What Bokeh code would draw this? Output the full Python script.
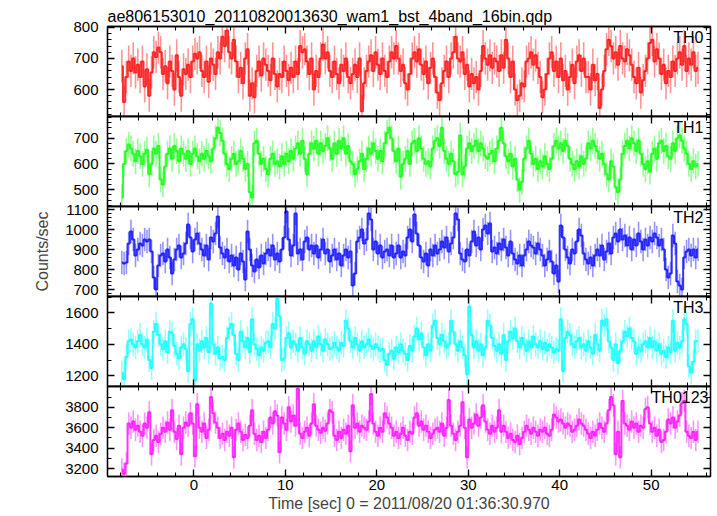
import numpy as np
from bokeh.plotting import figure
from bokeh.layouts import column
from bokeh.models import Range1d, LinearAxis, FixedTicker, Label, ColumnDataSource
from bokeh.embed import file_html
from bokeh.resources import INLINE

# ---------------- data (counts/sec, 0.25 s bins starting at t = -8.0 s) ----------------
T_START = -8.0
BIN = 0.25

th0 = [
    675, 560, 640, 690, 660, 700, 655, 680, 640, 690, 610, 665, 580, 655, 720, 705,
    735, 720, 650, 675, 620, 690, 660, 600, 710, 640, 580, 665, 650, 680, 640, 690,
    715, 700, 720, 660, 640, 690, 625, 700, 680, 650, 720, 700, 770, 740, 790, 720,
    700, 760, 690, 640, 670, 620, 700, 730, 580, 620, 575, 660, 690, 645, 700, 680,
    660, 630, 700, 650, 610, 650, 640, 690, 660, 630, 670, 640, 690, 650, 740, 720,
    730, 690, 650, 700, 600, 660, 640, 700, 745, 700, 720, 660, 640, 690, 650, 620,
    680, 660, 700, 640, 620, 650, 680, 640, 700, 530, 620, 660, 690, 710, 660, 720,
    680, 650, 700, 660, 640, 690, 720, 700, 740, 700, 660, 680, 620, 600, 650, 700,
    720, 690, 730, 680, 650, 690, 620, 670, 700, 640, 590, 565, 620, 660, 690, 640,
    700, 720, 770, 700, 690, 720, 650, 680, 610, 650, 620, 640, 600, 660, 740, 700,
    680, 710, 670, 700, 690, 660, 710, 670, 760, 700, 640, 690, 600, 565, 580, 620,
    610, 690, 700, 720, 680, 710, 670, 640, 575, 600, 650, 700, 720, 660, 690, 640,
    700, 630, 660, 600, 640, 680, 620, 690, 710, 660, 700, 640, 640, 600, 680, 630,
    650, 540, 600, 660, 730, 760, 740, 700, 720, 680, 740, 700, 690, 730, 710, 680,
    640, 620, 670, 590, 630, 660, 700, 750, 760, 690, 730, 700, 650, 680, 620, 660,
    640, 690, 660, 700, 720, 680, 740, 660, 700, 680, 720, 660, 670,
]
th1 = [
    470, 600, 650, 675, 660, 640, 610, 650, 630, 600, 640, 655, 560, 600, 660, 640,
    670, 540, 520, 590, 640, 660, 620, 670, 650, 610, 660, 640, 620, 650, 600, 640,
    660, 630, 610, 640, 620, 650, 630, 610, 660, 700, 740, 720, 690, 640, 600, 580,
    620, 640, 600, 610, 650, 620, 580, 600, 490, 470, 680, 690, 640, 600, 620, 580,
    560, 620, 640, 600, 610, 590, 630, 600, 640, 610, 650, 620, 660, 680, 640, 690,
    620, 560, 640, 680, 660, 690, 640, 680, 650, 670, 700, 660, 620, 680, 640, 690,
    660, 700, 640, 670, 610, 600, 560, 580, 610, 640, 580, 620, 660, 640, 680, 650,
    620, 650, 610, 680, 720, 740, 700, 650, 610, 660, 550, 600, 620, 650, 600, 680,
    690, 650, 700, 660, 620, 600, 610, 590, 660, 690, 700, 670, 740, 650, 620, 600,
    640, 610, 560, 570, 710, 560, 590, 660, 680, 650, 670, 690, 650, 680, 660, 630,
    620, 640, 650, 610, 660, 690, 740, 680, 630, 610, 640, 590, 620, 540, 500, 530,
    620, 660, 690, 640, 600, 620, 580, 610, 590, 630, 600, 580, 620, 670, 690, 660,
    680, 650, 690, 670, 620, 600, 580, 610, 590, 630, 600, 620, 680, 660, 690, 670,
    650, 620, 640, 600, 560, 540, 610, 590, 510, 490, 540, 640, 670, 690, 660, 700,
    680, 650, 690, 640, 600, 580, 610, 570, 640, 660, 620, 680, 690, 650, 670, 630,
    620, 680, 650, 700, 710, 690, 660, 640, 600, 580, 610, 590, 600,
]
th2 = [
    835, 830, 835, 930, 990, 950, 870, 900, 930, 920, 950, 940, 950, 890, 760, 700,
    820, 870, 880, 840, 900, 860, 780, 850, 900, 920, 860, 880, 930, 1025, 960, 890,
    950, 980, 930, 900, 870, 920, 850, 960, 940, 980, 1065, 910, 880, 860, 900, 840,
    870, 820, 860, 800, 880, 840, 750, 990, 900, 820, 790, 850, 810, 870, 830, 880,
    900, 870, 920, 850, 880, 840, 900, 960, 1090, 950, 870, 920, 1080, 880, 900, 850,
    940, 960, 900, 920, 880, 920, 860, 900, 950, 880, 900, 840, 870, 900, 850, 880,
    820, 870, 900, 860, 890, 720, 780, 940, 960, 1000, 930, 950, 1080, 1050, 900, 940,
    880, 920, 860, 890, 900, 870, 920, 860, 880, 920, 860, 890, 870, 960, 1000, 940,
    1075, 980, 920, 860, 840, 880, 820, 900, 870, 920, 880, 900, 940, 910, 960, 890,
    930, 960, 1080, 1050, 880, 850, 840, 900, 870, 940, 990, 920, 960, 900, 1000, 1020,
    980, 1030, 890, 910, 880, 930, 900, 950, 910, 870, 940, 880, 850, 830, 870, 820,
    870, 900, 940, 920, 910, 880, 930, 900, 870, 820, 850, 890, 840, 780, 820, 740,
    1020, 960, 900, 860, 830, 900, 880, 940, 1000, 970, 880, 850, 830, 860, 820, 870,
    900, 870, 920, 850, 890, 930, 880, 960, 980, 940, 1000, 950, 970, 920, 960, 900,
    950, 920, 980, 940, 900, 950, 920, 960, 940, 980, 960, 920, 950, 900, 800, 760,
    780, 970, 930, 740, 720, 700, 860, 890, 900, 870, 900, 860, 900,
]
th3 = [
    1220, 1180, 1320, 1420, 1430, 1400, 1380, 1420, 1460, 1400, 1380, 1430, 1300, 1250, 1480, 1530,
    1460, 1400, 1370, 1420, 1350, 1480, 1470, 1390, 1340, 1310, 1380, 1400, 1370, 1230, 1530, 1560,
    1170, 1400, 1360, 1420, 1380, 1440, 1350, 1660, 1400, 1340, 1380, 1310, 1320, 1300, 1440, 1500,
    1530, 1460, 1340, 1300, 1480, 1420, 1380, 1440, 1350, 1560, 1400, 1370, 1330, 1380, 1360, 1410,
    1420, 1380, 1530, 1500, 1690, 1580, 1300, 1310, 1440, 1470, 1380, 1420, 1400, 1360, 1440, 1380,
    1340, 1420, 1400, 1360, 1420, 1380, 1450, 1400, 1360, 1430, 1400, 1370, 1380, 1410, 1380, 1360,
    1410, 1390, 1550, 1500, 1420, 1380, 1440, 1400, 1360, 1420, 1380, 1400, 1430, 1390, 1370, 1400,
    1380, 1360, 1370, 1300, 1270, 1340, 1360, 1310, 1380, 1350, 1400, 1360, 1340, 1300, 1390, 1360,
    1450, 1500, 1430, 1470, 1380, 1330, 1400, 1360, 1520, 1550, 1440, 1400, 1460, 1420, 1380, 1400,
    1550, 1480, 1400, 1360, 1420, 1380, 1330, 1210, 1640, 1460, 1380, 1420, 1360, 1400, 1330, 1380,
    1550, 1520, 1440, 1390, 1360, 1400, 1340, 1460, 1300, 1420, 1480, 1440, 1500, 1420, 1380, 1440,
    1400, 1360, 1420, 1380, 1450, 1400, 1380, 1420, 1370, 1410, 1360, 1400, 1380, 1350, 1370, 1360,
    1560, 1230, 1440, 1480, 1460, 1400, 1380, 1420, 1440, 1380, 1400, 1360, 1420, 1380, 1340, 1460,
    1400, 1360, 1550, 1520, 1560, 1420, 1380, 1300, 1400, 1280, 1360, 1420, 1480, 1450, 1500, 1440,
    1420, 1340, 1380, 1360, 1400, 1420, 1380, 1440, 1380, 1420, 1360, 1400, 1340, 1360, 1320, 1380,
    1350, 1550, 1360, 1410, 1380, 1420, 1560, 1530, 1260, 1220, 1290, 1420, 1420,
]
th0123 = [
    3190, 3150, 3250, 3640, 3600, 3660, 3580, 3620, 3560, 3520, 3640, 3600, 3750, 3340, 3480, 3520,
    3460, 3540, 3600, 3560, 3650, 3580, 3770, 3560, 3490, 3620, 3340, 3600, 3650, 3620, 3740, 3640,
    3320, 3830, 3600, 3560, 3640, 3500, 3580, 3900, 3740, 3650, 3600, 3500, 3540, 3480, 3560, 3520,
    3600, 3310, 3580, 3640, 3560, 3480, 3530, 3500, 3620, 3770, 3540, 3480, 3520, 3460, 3560, 3500,
    3580, 3700, 3640, 3760, 3720, 3360, 3700, 3640, 3580, 3800, 3660, 3720, 3620, 3980, 3540, 3500,
    3560, 3600, 3520, 3640, 3830, 3620, 3580, 3550, 3600, 3570, 3640, 3770, 3750, 3520, 3480, 3560,
    3500, 3580, 3540, 3620, 3370, 3820, 3600, 3640, 3560, 3620, 3600, 3580, 3660, 3930, 3640, 3560,
    3520, 3600, 3560, 3740, 3700, 3640, 3600, 3520, 3560, 3500, 3540, 3600, 3520, 3480, 3560, 3540,
    3700, 3740, 3620, 3660, 3580, 3620, 3560, 3500, 3540, 3580, 3600, 3560, 3640, 3520, 3600, 3870,
    3620, 3540, 3480, 3560, 3620, 3850, 3600, 3310, 3680, 3600, 3640, 3730, 3620, 3700, 3820, 3660,
    3580, 3540, 3620, 3560, 3600, 3770, 3560, 3620, 3560, 3500, 3540, 3480, 3460, 3520, 3440, 3500,
    3560, 3620, 3580, 3540, 3600, 3560, 3520, 3580, 3560, 3600, 3540, 3520, 3580, 3730, 3700, 3660,
    3680, 3640, 3600, 3640, 3620, 3560, 3580, 3620, 3680, 3640, 3620, 3580, 3540, 3500, 3560, 3520,
    3580, 3640, 3600, 3560, 3640, 3770, 3900, 3820, 3340, 3560, 3310, 3860, 3640, 3620, 3580, 3660,
    3600, 3640, 3560, 3620, 3600, 3780, 3800, 3640, 3560, 3600, 3520, 3580, 3460, 3480, 3560, 3680,
    3640, 3700, 3600, 3660, 3720, 3840, 3860, 3560, 3520, 3500, 3560, 3480, 3560,
]

series = [th0, th1, th2, th3, th0123]
panel_names = ["TH0", "TH1", "TH2", "TH3", "TH0123"]
colors = ["#ff0000", "#00ff00", "#0000ff", "#00ffff", "#ff00ff"]
errors = [52, 50, 59, 75, 110]
y_limits = [(513, 803), (435, 784), (665, 1115), (1132, 1704), (3122, 4003)]
y_major = [[600, 700, 800], [500, 600, 700], [700, 800, 900, 1000, 1100],
           [1200, 1400, 1600], [3200, 3400, 3600, 3800]]
y_minor = [list(range(520, 801, 20)), list(range(440, 781, 20)), list(range(680, 1111, 20)),
           list(range(1200, 1701, 100)), list(range(3200, 4001, 100))]
x_major = [0, 10, 20, 30, 40, 50]
x_minor = list(range(-8, 57, 2))
x_limits = (-9.44, 56.49)

title_text = "ae806153010_20110820013630_wam1_bst_4band_16bin.qdp"
x_label = "Time [sec] 0 = 2011/08/20 01:36:30.970"
y_label = "Counts/sec"

FONT = "Liberation Sans"
PAD = 12  # transparent border above/below inner panels, overlapped by the neighbour


def style_axis(ax, show_labels, ticks, minor):
    ax.ticker = FixedTicker(ticks=ticks, minor_ticks=minor)
    ax.major_tick_in = 7
    ax.major_tick_out = 0
    ax.minor_tick_in = 4
    ax.minor_tick_out = 0
    ax.axis_line_color = "black"
    ax.axis_line_width = 1.3
    ax.major_tick_line_color = "black"
    ax.major_tick_line_width = 1.3
    ax.minor_tick_line_color = "black"
    ax.minor_tick_line_width = 1.1
    ax.major_label_text_font = FONT
    ax.major_label_text_color = "black"
    ax.major_label_text_font_size = "15px"
    if not show_labels:
        ax.major_label_text_color = None
        ax.major_label_standoff = 0
        ax.axis_label = None


figs = []
n = len(series)
for i in range(n):
    vals = np.array(series[i], dtype=float)
    t = T_START + BIN * (np.arange(len(vals)) + 0.5)
    err = errors[i]
    src = ColumnDataSource(dict(t=t, v=vals, lo=vals - err, hi=vals + err))

    first = i == 0
    last = i == n - 1
    p = figure(frame_width=603, frame_height=90,
               x_range=Range1d(*x_limits), y_range=Range1d(*y_limits[i]),
               output_backend="svg", toolbar_location=None,
               x_axis_location=None, y_axis_location=None,
               min_border_left=107, min_border_right=7,
               min_border_top=26 if first else PAD,
               min_border_bottom=40 if last else PAD,
               title=title_text if first else None,
               background_fill_color="white", border_fill_color=None)
    p.grid.visible = False
    p.outline_line_color = "black"
    p.outline_line_width = 1.3
    if not first:
        p.styles = {"margin-top": f"-{2 * PAD}px"}
    if first:
        p.title.align = "left"
        p.title.text_font = FONT
        p.title.text_font_size = "16px"
        p.title.text_font_style = "normal"
        p.title.text_color = "black"
        p.title.standoff = 4
        p.title.offset = 0

    left = LinearAxis()
    style_axis(left, True, y_major[i], y_minor[i])
    left.major_label_standoff = 9
    if i == 2:
        left.axis_label = y_label
        left.axis_label_text_font = FONT
        left.axis_label_text_font_style = "normal"
        left.axis_label_text_font_size = "16px"
        left.axis_label_standoff = 11
    right = LinearAxis()
    style_axis(right, False, y_major[i], y_minor[i])
    below = LinearAxis()
    style_axis(below, last, x_major, x_minor)
    if last:
        below.major_label_standoff = 3
        below.axis_label = x_label
        below.axis_label_text_font = FONT
        below.axis_label_text_font_style = "normal"
        below.axis_label_text_font_size = "16px"
        below.axis_label_standoff = 2
    above = LinearAxis()
    style_axis(above, False, x_major, x_minor)
    p.add_layout(left, "left")
    p.add_layout(right, "right")
    p.add_layout(below, "below")
    p.add_layout(above, "above")

    p.segment(x0="t", y0="lo", x1="t", y1="hi", source=src,
              line_color=colors[i], line_alpha=0.42, line_width=1.6)
    p.step(x="t", y="v", source=src, mode="center",
           line_color=colors[i], line_alpha=0.8, line_width=2.0)

    label_right = 601 if last else 596
    p.add_layout(Label(x=label_right, y=88, x_units="screen", y_units="screen",
                       text=panel_names[i], text_align="right", text_baseline="top",
                       text_font=FONT, text_font_size="16px", text_color="black"))
    figs.append(p)

layout = column(*figs, spacing=0)
open("out.html", "w").write(file_html(layout, INLINE))
